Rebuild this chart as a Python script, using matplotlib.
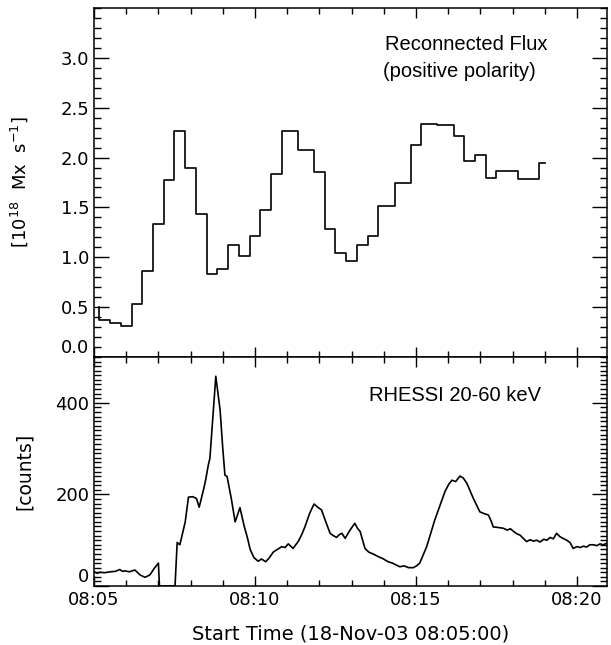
import matplotlib
matplotlib.use("Agg")
import matplotlib.pyplot as plt
import numpy as np
from matplotlib.ticker import MultipleLocator

# reconnected flux, step bins (seconds after 08:05:00)
flux_edges = [10, 30, 50, 70, 90, 110, 130, 150, 170, 190, 210, 230, 250, 270,
              290, 310, 330, 350, 380, 410, 430, 450, 470, 490, 510, 530, 560,
              590, 610, 640, 670, 690, 710, 730, 750, 790, 830, 840]
flux_vals = [0.37, 0.34, 0.31, 0.53, 0.86, 1.33, 1.78, 2.27, 1.90, 1.43, 0.83,
             0.88, 1.12, 1.01, 1.21, 1.47, 1.84, 2.27, 2.08, 1.86, 1.28, 1.04,
             0.96, 1.12, 1.21, 1.51, 1.75, 2.13, 2.34, 2.33, 2.22, 1.97, 2.03,
             1.80, 1.87, 1.79, 1.95]
flux_start = 0.50

# RHESSI 20-60 keV counts
hxr_t = [0, 6, 11, 20, 30, 40, 48, 53, 58, 66, 76, 86, 95, 104, 112, 120, 122,
         151, 155, 160, 165, 170, 176, 184, 191, 196, 204, 208, 213, 216, 227,
         235, 240, 244, 248, 256, 263, 272, 280, 286, 291, 298, 306, 312, 320,
         327, 334, 342, 350, 356, 362, 371, 381, 387, 393, 402, 410, 417, 424,
         432, 440, 446, 452, 457, 462, 468, 476, 486, 491, 496, 505, 512, 520,
         530, 538, 548, 556, 563, 570, 578, 586, 595, 601, 607, 620, 635, 654,
         661, 667, 674, 682, 688, 695, 707, 719, 727, 735, 740, 744, 752, 763,
         770, 776, 782, 788, 794, 800, 806, 813, 819, 825, 831, 838, 844, 850,
         856, 862, 868, 874, 881, 887, 893, 900, 906, 912, 918, 924, 931, 937,
         943, 949, 955]
hxr_c = [31, 28, 30, 29, 31, 32, 36, 32, 33, 31, 35, 24, 19, 24, 38, 50, 0,
         0, 95, 90, 115, 140, 194, 195, 191, 172, 210, 231, 264, 279, 458,
         384, 300, 242, 239, 190, 140, 171, 130, 105, 80, 62, 54, 59, 53,
         62, 74, 80, 86, 84, 92, 82, 98, 112, 129, 159, 179, 172, 166,
         140, 115, 110, 106, 112, 115, 104, 120, 137, 126, 119, 82, 74, 70,
         64, 60, 53, 50, 46, 42, 44, 40, 40, 44, 50, 86, 144, 206,
         222, 231, 228, 240, 236, 224, 191, 162, 158, 155, 142, 129, 128, 126,
         122, 125, 119, 114, 111, 104, 97, 101, 98, 100, 96, 102, 100, 106,
         103, 115, 108, 104, 100, 95, 82, 86, 84, 87, 85, 90, 90, 88,
         92, 90, 93]

xticks = [0, 300, 600, 900]
xticklabels = ["08:05", "08:10", "08:15", "08:20"]

fig = plt.figure(figsize=(6.11, 6.45), dpi=100)
ax1 = fig.add_axes([94/611, 1-357/645, 513/611, 349/645])
ax2 = fig.add_axes([94/611, 1-586/645, 513/611, 229/645])

x = [flux_edges[0]] + flux_edges
y = [flux_start] + flux_vals + [flux_vals[-1]]
ax1.step(x, y, where="post", color="black", lw=1.2)
ax2.plot(hxr_t, hxr_c, color="black", lw=1.2)

for ax in (ax1, ax2):
    ax.set_xlim(0, 956)
    ax.set_xticks(xticks)
    ax.xaxis.set_minor_locator(MultipleLocator(60))
    ax.tick_params(which="both", direction="in", top=True, right=True,
                   labelsize=13, width=1.0)
    ax.tick_params(axis="x", which="major", length=7.5)
    ax.tick_params(axis="x", which="minor", length=4.5)
    ax.tick_params(axis="y", which="major", length=11)
    ax.tick_params(axis="y", which="minor", length=5)
    for s in ax.spines.values():
        s.set_linewidth(1.1)

ax1.set_ylim(0, 3.5)
ax1.set_yticks([0, 0.5, 1.0, 1.5, 2.0, 2.5, 3.0])
ax1.set_yticklabels(["0.0", "0.5", "1.0", "1.5", "2.0", "2.5", "3.0"])
ax1.yaxis.set_minor_locator(MultipleLocator(0.1))
ax1.tick_params(axis="x", labelbottom=False)
ax1.get_yticklabels()[0].set_va("bottom")
ax1.set_ylabel(r"[10$^{18}$  Mx  s$^{-1}$]", fontsize=13, labelpad=22)

ax2.set_ylim(0, 500)
ax2.set_yticks([0, 200, 400])
ax2.yaxis.set_minor_locator(MultipleLocator(10))
ax2.set_xticklabels(xticklabels)
ax2.get_yticklabels()[0].set_va("bottom")
ax2.set_ylabel("[counts]", fontsize=13.5, labelpad=15)
ax2.set_xlabel("Start Time (18-Nov-03 08:05:00)", fontsize=14, labelpad=11)

ax1.text(0.567, 0.894, "Reconnected Flux", transform=ax1.transAxes,
         fontsize=14.5, family="Liberation Sans", va="center")
ax1.text(0.563, 0.817, "(positive polarity)", transform=ax1.transAxes,
         fontsize=14.5, family="Liberation Sans", va="center")
ax2.text(0.536, 0.834, "RHESSI 20-60 keV", transform=ax2.transAxes,
         fontsize=14.5, family="Liberation Sans", va="center")

fig.savefig("out.png", dpi=100)
